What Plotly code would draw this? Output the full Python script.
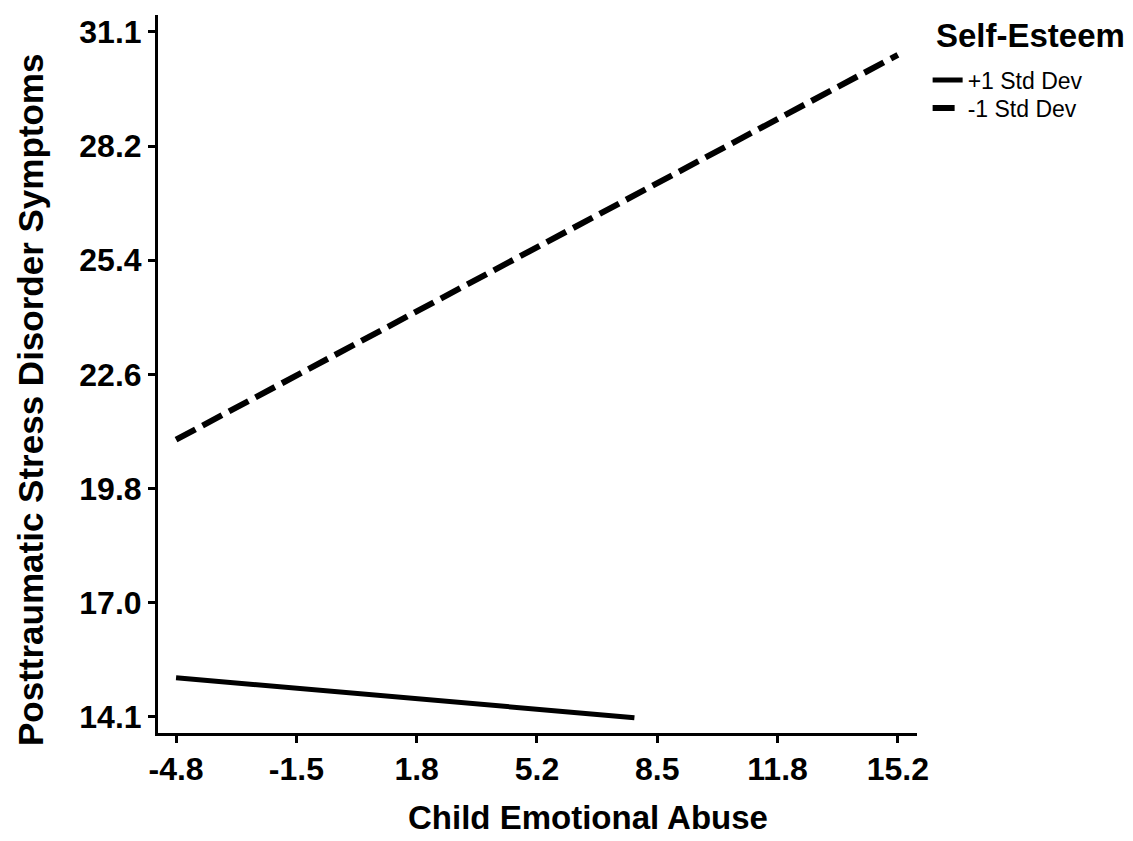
import plotly.graph_objects as go

# Data
x_ticklabels = ["-4.8", "-1.5", "1.8", "5.2", "8.5", "11.8", "15.2"]
x_tickvals = [-4.8, -1.4667, 1.8667, 5.2, 8.5333, 11.8667, 15.2]
y_ticklabels = ["14.1", "17.0", "19.8", "22.6", "25.4", "28.2", "31.1"]
y_tickvals = [14.1, 16.933, 19.767, 22.6, 25.433, 28.267, 31.1]

plus_sd_x = [-4.8, 7.9]
plus_sd_y = [15.07, 14.08]
minus_sd_x = [-4.8, 15.2]
minus_sd_y = [20.98, 30.53]

FONT = "Liberation Sans, Arial, sans-serif"

fig = go.Figure()
fig.add_trace(go.Scatter(x=plus_sd_x, y=plus_sd_y, mode="lines", name="+1 Std Dev",
                         legend="legend", showlegend=True,
                         line=dict(color="black", width=5)))
fig.add_trace(go.Scatter(x=minus_sd_x, y=minus_sd_y, mode="lines", name="-1 Std Dev",
                         legend="legend2", showlegend=True,
                         line=dict(color="black", width=6, dash="22px,8px")))

legend_common = dict(
    xanchor="left", yanchor="middle", visible=True,
    font=dict(size=23, family=FONT),
    bgcolor="rgba(0,0,0,0)",
)

fig.update_layout(
    template="none",
    showlegend=True,
    width=1133, height=841,
    margin=dict(l=150, r=224, t=7, b=116, autoexpand=False),
    paper_bgcolor="white", plot_bgcolor="white",
    font=dict(family=FONT, color="black"),
    legend=dict(x=1.014, y=0.9095, **legend_common),
    legend2=dict(x=1.014, y=0.8705, **legend_common),
    annotations=[
        dict(text="<b>Self-Esteem</b>", xref="paper", yref="paper",
             x=1.149, y=0.9708, xanchor="center", yanchor="middle",
             showarrow=False, font=dict(size=33, family=FONT)),
        dict(text="<b>Child Emotional Abuse</b>", xref="paper", yref="paper",
             x=0.5665, y=-0.117, xanchor="center", yanchor="middle",
             showarrow=False, font=dict(size=33, family=FONT)),
        dict(text="<b>Posttraumatic Stress Disorder Symptoms</b>", xref="paper", yref="paper",
             x=-0.1673, y=0.4638, xanchor="center", yanchor="middle", textangle=-90,
             showarrow=False, font=dict(size=35, family=FONT)),
    ],
    xaxis=dict(
        automargin=False,
        range=[-5.3, 15.73],
        tickvals=x_tickvals, ticktext=["<b>%s</b>" % t for t in x_ticklabels],
        tickfont=dict(size=32, family=FONT),
        ticks="outside", ticklen=7, tickwidth=3, tickcolor="black",
        ticklabelstandoff=-1,
        showline=True, linecolor="black", linewidth=3,
        showgrid=False, zeroline=False,
    ),
    yaxis=dict(
        automargin=False,
        range=[13.7, 31.52],
        tickvals=y_tickvals, ticktext=["<b>%s</b>" % t for t in y_ticklabels],
        tickfont=dict(size=32, family=FONT),
        ticks="outside", ticklen=7, tickwidth=3, tickcolor="black",
        showline=True, linecolor="black", linewidth=3,
        showgrid=False, zeroline=False,
    ),
)

fig.write_html("out.html")
